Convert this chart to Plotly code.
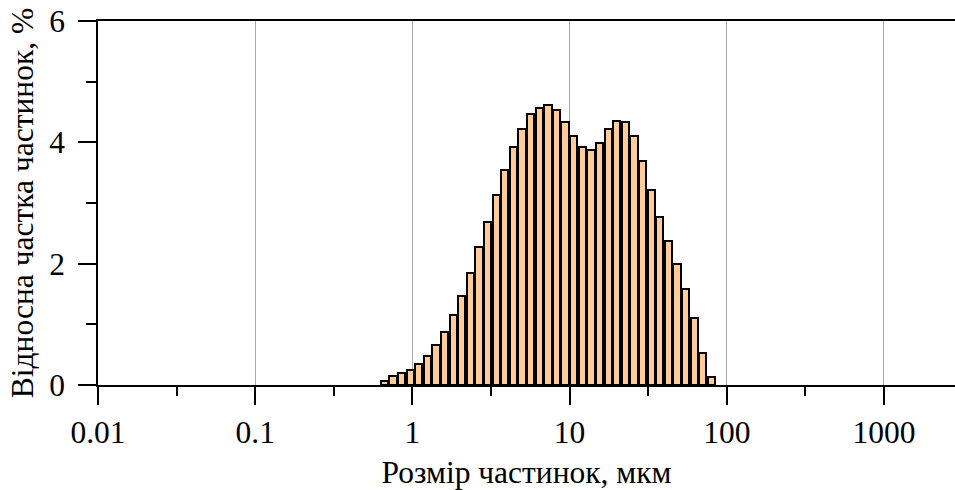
import numpy as np
import plotly.graph_objects as go

# Particle size bin centres, µm
sizes = [0.663, 0.752, 0.853, 0.968, 1.098, 1.245, 1.413, 1.602, 1.818, 2.062,
         2.339, 2.654, 3.010, 3.415, 3.874, 4.395, 4.985, 5.656, 6.416, 7.278,
         8.256, 9.366, 10.63, 12.05, 13.67, 15.51, 17.60, 19.96, 22.64, 25.69,
         29.14, 33.06, 37.50, 42.54, 48.26, 54.74, 62.10, 70.45, 79.91]
# Relative fraction, %
fraction = [0.07, 0.15, 0.19, 0.24, 0.34, 0.48, 0.66, 0.88, 1.15, 1.47,
            1.84, 2.27, 2.69, 3.14, 3.54, 3.92, 4.22, 4.46, 4.56, 4.61,
            4.53, 4.33, 4.10, 3.92, 3.87, 3.99, 4.22, 4.35, 4.34, 4.10,
            3.69, 3.21, 2.77, 2.38, 1.99, 1.59, 1.11, 0.52, 0.13]

x_tick_values = [0.01, 0.1, 1, 10, 100, 1000]
x_tick_labels = ["0.01", "0.1", "1", "10", "100", "1000"]
y_tick_values = [0, 2, 4, 6]

FONT = "Liberation Serif"
FS = 31.5

x_log = np.log10(sizes)

fig = go.Figure()
fig.add_trace(go.Bar(
    x=x_log, y=fraction,
    width=0.046,
    marker=dict(color="#FFCC99", line=dict(color="black", width=2)),
    showlegend=False,
))

fig.update_layout(
    width=955, height=490,
    margin=dict(l=98, r=0, t=21, b=105),
    paper_bgcolor="white", plot_bgcolor="white",
    font=dict(family=FONT, size=FS, color="black"),
    bargap=0,
    xaxis=dict(
        range=[-2, 3.452],
        tickmode="array",
        tickvals=np.log10(x_tick_values),
        ticktext=x_tick_labels,
        tickfont=dict(family=FONT, size=FS, color="black"),
        ticks="outside", ticklen=18, tickwidth=1.5, tickcolor="black",
        showline=True, linecolor="black", linewidth=2, mirror=True,
        showgrid=True, gridcolor="#a8a8a8", gridwidth=1,
        zeroline=False,
        minor=dict(tickvals=[-1.5, -0.5, 0.5, 1.5, 2.5], ticklen=9,
                   tickwidth=1.5, tickcolor="black", ticks="outside", showgrid=False),
        title=dict(text="Розмір частинок, мкм", standoff=16,
                   font=dict(family=FONT, size=FS, color="black")),
        ticklabelstandoff=0,
    ),
    yaxis=dict(
        range=[0, 6],
        tickmode="array",
        tickvals=y_tick_values,
        tickfont=dict(family=FONT, size=FS, color="black"),
        ticks="outside", ticklen=18, tickwidth=1.5, tickcolor="black",
        showline=True, linecolor="black", linewidth=1.5,
        showgrid=False, zeroline=False,
        minor=dict(tickvals=[1, 3, 5], ticklen=10, tickwidth=1.5,
                   tickcolor="black", ticks="outside", showgrid=False),
        title=dict(text="Відносна частка частинок, %", standoff=6,
                   font=dict(family=FONT, size=FS, color="black")),
        ticklabelstandoff=7,
    ),
)

fig.write_html("out.html")
